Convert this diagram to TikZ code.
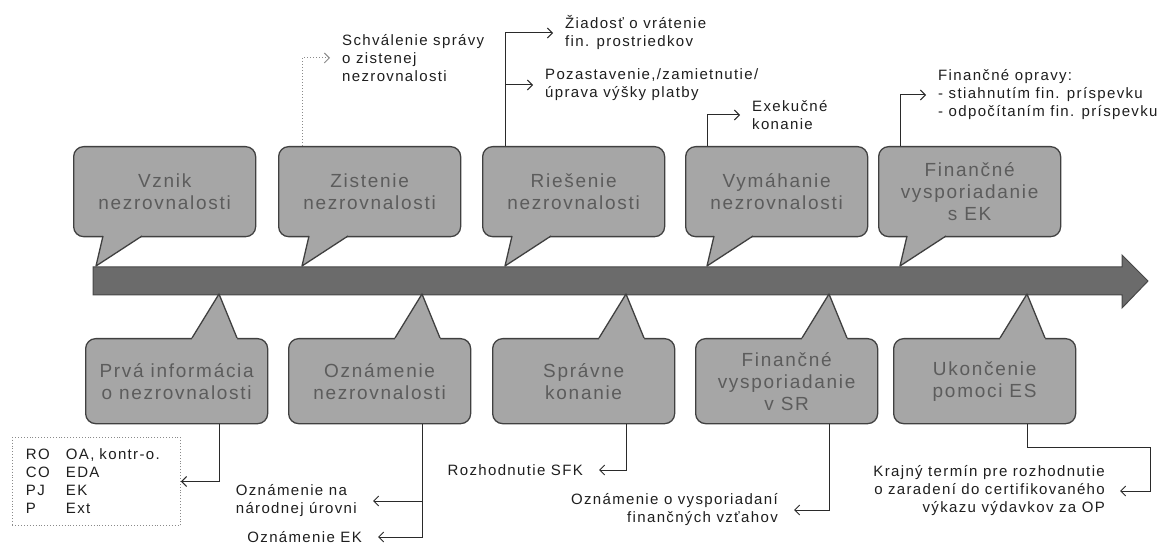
\documentclass[tikz,border=0pt]{standalone}
\usepackage{fontspec}
\setmainfont{Liberation Sans}[LetterSpace=9]
\usetikzlibrary{arrows.meta}
\definecolor{boxfill}{HTML}{A6A6A6}
\definecolor{boxline}{HTML}{404040}
\definecolor{boxtext}{HTML}{5C5C5C}
\definecolor{barfill}{HTML}{6B6B6B}
\definecolor{barline}{HTML}{474747}
\definecolor{notetext}{HTML}{1E1E1E}
\definecolor{linkcol}{HTML}{2A2A2A}
\definecolor{dotcol}{HTML}{8A8A8A}
\begin{document}
\begin{tikzpicture}[x=1pt,y=-1pt,
  callout/.style={draw=boxline, fill=boxfill, line width=1.3pt, rounded corners=10pt,
    minimum width=182pt, text=boxtext, font=\fontsize{19}{22}\selectfont,
    align=center, anchor=north west, inner sep=0pt},
  calltop/.style={callout, minimum height=90pt},
  callbot/.style={callout, minimum height=85pt},
  wedgeline/.style={draw=boxline, line width=1.3pt, line join=round},
  note/.style={font=\fontsize{15}{18}\selectfont, text=notetext, inner sep=0pt},
  link/.style={draw=linkcol, line width=1pt, -{Straight Barb[length=5pt,width=10pt]}, shorten >=12pt},
  faint/.style={draw=dotcol, dotted, line width=1pt}
]
\useasboundingbox (0,0) rectangle (1160,545);

% timeline arrow
\draw[fill=barfill, draw=barline, line width=1pt, line join=miter]
  (93,267) -- (1122,267) -- (1122,255) -- (1148,281) -- (1122,308) -- (1122,295) -- (93,295) -- cycle;

% callouts above the timeline
\node[calltop] (vznik) at (73,146) {Vznik\\nezrovnalosti};
\node[calltop] (zist)  at (278,146) {Zistenie\\nezrovnalosti};
\node[calltop] (ries)  at (482,146) {Riešenie\\nezrovnalosti};
\node[calltop] (vym)   at (685,146) {Vymáhanie\\nezrovnalosti};
\node[calltop] (finek) at (878,146) {Finančné\\vysporiadanie\\s EK};

\coordinate (vznikTip) at (96,266);
\coordinate (zistTip)  at (302,266);
\coordinate (riesTip)  at (505,266);
\coordinate (vymTip)   at (707,266);
\coordinate (finekTip) at (900,266);

\foreach \t in {96,302,505,707,900} {
  \fill[boxfill] (\t+7,236) -- (\t,266) -- (\t+46,236) -- (\t+46,229) -- (\t+7,229) -- cycle;
  \draw[wedgeline] (\t+7,236) -- (\t,266) -- (\t+46,236);
}

% callouts below the timeline
\node[callbot] (prva)  at (85,338)  {Prvá informácia\\o nezrovnalosti};
\node[callbot] (ozn)   at (288,338) {Oznámenie\\nezrovnalosti};
\node[callbot] (spr)   at (492,338) {Správne\\konanie};
\node[callbot] (finsr) at (695,338) {Finančné\\vysporiadanie\\v SR};
\node[callbot] (ukon)  at (893,338) {Ukončenie\\pomoci ES};

\coordinate (prvaTip)  at (219,294);
\coordinate (oznTip)   at (422,294);
\coordinate (sprTip)   at (626,294);
\coordinate (finsrTip) at (829,294);
\coordinate (ukonTip)  at (1027,294);

\foreach \t in {219,422,626,829,1027} {
  \fill[boxfill] (\t-27,338) -- (\t,294) -- (\t+18,338) -- (\t+18,345) -- (\t-27,345) -- cycle;
  \draw[wedgeline] (\t-27,338) -- (\t,294) -- (\t+18,338);
}

% notes above
\node[note, anchor=west, align=left] (schval) at (342,58) {Schválenie správy\\o zistenej\\nezrovnalosti};
\node[note, anchor=west, align=left] (ziad)   at (565,33) {Žiadosť o vrátenie\\fin. prostriedkov};
\node[note, anchor=west, align=left] (pozast) at (545,85) {Pozastavenie,/zamietnutie/\\úprava výšky platby};
\node[note, anchor=west, align=left] (exek)   at (752,115) {Exekučné\\konanie};
\node[note, anchor=west, align=left] (finopr) at (938,95) {Finančné opravy:\\- stiahnutím fin. príspevku\\- odpočítaním fin. príspevku};

% notes below
\node[note, draw=dotcol, dotted, line width=0.9pt, anchor=north west,
      minimum width=168pt, minimum height=88pt, align=left, text width=141pt,
      inner xsep=13.5pt] (ro) at (12,437)
  {\makebox[40pt][l]{RO}OA, kontr-o.\\\makebox[40pt][l]{CO}EDA\\\makebox[40pt][l]{PJ}EK\\\makebox[40pt][l]{P}Ext};
\node[note, anchor=east, align=left]  (nar)  at (357,501)  {Oznámenie na\\národnej úrovni};
\node[note, anchor=east]              (ek)   at (362,537)  {Oznámenie EK};
\node[note, anchor=east]              (roz)  at (583,470)  {Rozhodnutie SFK};
\node[note, anchor=east, align=right] (vysp) at (778,510)  {Oznámenie o vysporiadaní\\finančných vzťahov};
\node[note, anchor=east, align=right] (kraj) at (1105,491) {Krajný termín pre rozhodnutie\\o zaradení do certifikovaného\\výkazu výdavkov za OP};
\coordinate (krajBend) at (1150,447);

% connectors
\draw[link, faint] (zist.north -| zistTip) |- (schval.west);
\draw[link] (ries.north -| riesTip) |- (ziad.west);
\draw[link] (ries.north -| riesTip) |- (pozast.west);
\draw[link] (vym.north -| vymTip) |- (exek.west);
\draw[link] (finek.north -| finekTip) |- (finopr.west);

\draw[link, shorten >=0pt] (prva.south -| prvaTip) |- (ro.east);
\draw[link, shorten >=16pt] (ozn.south -| oznTip) |- (nar.east);
\draw[link, shorten >=16pt] (ozn.south -| oznTip) |- (ek.east);
\draw[link, shorten >=16pt] (spr.south -| sprTip) |- (roz.east);
\draw[link, shorten >=16pt] (finsr.south -| finsrTip) |- (vysp.east);
\draw[link, shorten >=15pt] (ukon.south -| ukonTip) |- (krajBend) |- (kraj.east);
\end{tikzpicture}
\end{document}
